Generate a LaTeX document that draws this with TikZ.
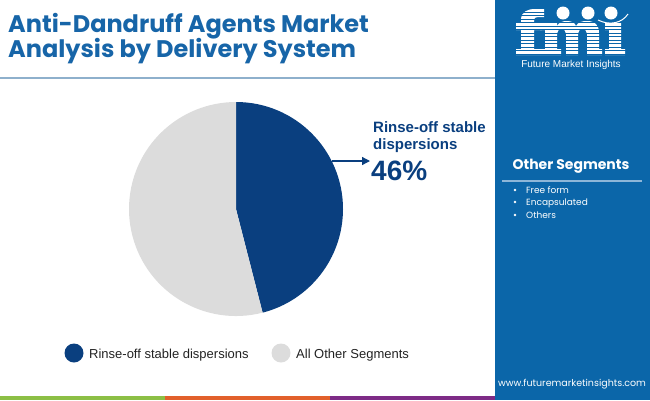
\documentclass[tikz,border=0pt]{standalone}
\usepackage{fontspec}
\setmainfont{Liberation Sans}
\newfontfamily\pop{Poppins}
\usetikzlibrary{arrows.meta}
\definecolor{panelblue}{HTML}{0B66A9}
\definecolor{titleblue}{HTML}{1765A8}
\definecolor{darkslice}{HTML}{0A3F7F}
\definecolor{greyslice}{HTML}{DCDCDC}
\definecolor{sepline}{HTML}{8EB0CC}
\definecolor{panelline}{HTML}{8DB6D8}
\definecolor{barGreen}{HTML}{8CBF45}
\definecolor{barOrange}{HTML}{E2602B}
\definecolor{barPurple}{HTML}{7E2B86}
\definecolor{legendtext}{HTML}{222222}
\tikzset{
  titletext/.style={anchor=base west, inner sep=0pt, text=titleblue, font=\pop\bfseries\fontsize{24}{26}\selectfont},
  calltext/.style={anchor=base west, inner sep=0pt, text=darkslice, font=\bfseries\fontsize{15}{17}\selectfont},
  callnum/.style={anchor=base west, inner sep=0pt, text=darkslice, font=\bfseries\fontsize{28}{30}\selectfont},
  legtext/.style={anchor=base west, inner sep=0pt, text=legendtext, font=\fontsize{13}{15}\selectfont},
  legdot/.style={circle, minimum size=19pt, inner sep=0pt},
  segtitle/.style={anchor=base, inner sep=0pt, text=white, font=\pop\bfseries\fontsize{14}{16}\selectfont},
  segitem/.style={anchor=base west, inner sep=0pt, text=white, font=\pop\fontsize{9}{11}\selectfont},
  bulletdot/.style={circle, fill=white, minimum size=2.6pt, inner sep=0pt},
  webtext/.style={anchor=base, inner sep=0pt, text=white, font=\pop\fontsize{9.5}{11}\selectfont},
  logoletter/.style={fill=white},
}
\begin{document}
\begin{tikzpicture}[x=1pt, y=-1pt]
\useasboundingbox (0,0) rectangle (650,400);
% right panel
\fill[panelblue] (495,0) rectangle (650,400);
% bottom bars
\fill[barGreen] (0,396) rectangle (165,400);
\fill[barOrange] (165,396) rectangle (330,400);
\fill[barPurple] (330,396) rectangle (495,400);
% title separator
\draw[sepline, line width=2pt] (0,78) -- (495,78);
% title
\node[titletext] (t1) at (8,32) {Anti-Dandruff Agents Market};
\node[titletext] (t2) at (8,57) {Analysis by Delivery System};
% logo letters f m i
\fill[logoletter] (516,55) -- (516,49) -- (521,49) -- (521,30) -- (516,30) -- (516,23) -- (521,23) -- (521,20)
  .. controls (521,12) and (527,9) .. (535,9) -- (544,9) -- (544,17) -- (538,17)
  .. controls (535,17) and (534,18) .. (534,21) -- (534,23) -- (542,23) -- (542,30) -- (534,30)
  -- (534,49) -- (540,49) -- (540,55) -- cycle;
\fill[logoletter] (540,55) -- (540,49) -- (545,49) -- (545,30) -- (540,30) -- (540,23) -- (557,23) -- (557,26)
  .. controls (559,22) and (563,21) .. (567,21) .. controls (572,21) and (575,23) .. (576,26)
  .. controls (578,22) and (582,21) .. (587,21) .. controls (595,21) and (599,25) .. (599,33)
  -- (599,49) -- (602,49) -- (602,55) -- (587,55) -- (587,34)
  .. controls (587,31) and (585,29) .. (582.5,29) .. controls (580,29) and (578,31) .. (578,34)
  -- (578,55) -- (566,55) -- (566,34)
  .. controls (566,31) and (564,29) .. (561.5,29) .. controls (559,29) and (557,31) .. (557,34)
  -- (557,49) -- (561,49) -- (561,55) -- cycle;
\fill[logoletter] (605,55) -- (605,49) -- (609,49) -- (609,30) -- (605,30) -- (605,23) -- (621,23) -- (621,49) -- (625,49) -- (625,55) -- cycle;
\foreach \yy in {12,15.5,...,55} {\draw[panelblue, line width=0.9pt] (514,\yy) -- (630,\yy);}
\fill[white] (563,13) circle (6.5);
\fill[white] (588,13) circle (6.5);
\fill[white] (611,13) circle (6.5);
\draw[white, line width=1pt] (598,20) .. controls (610,26) and (622,23) .. (628,14);
\node[anchor=base, inner sep=0pt, text=white, font=\fontsize{10}{12}\selectfont] (logotext) at (571,67) {Future Market Insights};
% pie
\coordinate (c) at (236,209);
\fill[darkslice] (c) -- ++(-90:107) arc[start angle=-90, end angle=75.6, radius=107] -- cycle;
\fill[greyslice] (c) -- ++(75.6:107) arc[start angle=75.6, end angle=270, radius=107] -- cycle;
% callout
\coordinate (pe) at (331.6,161);
\coordinate (tip) at (370,161);
\draw[darkslice, line width=1.3pt, -{Triangle[length=8pt, width=8pt]}] (pe) -- (tip);
\node[calltext] (c1) at (373,132) {Rinse-off stable};
\node[calltext] (c2) at (373,149) {dispersions};
\node[callnum] (c3) at (371,180) {46\%};
% legend
\node[legdot, fill=darkslice] (ld1) at (74,353) {};
\node[legtext] (lt1) at (89,358) {Rinse-off stable dispersions};
\node[legdot, fill=greyslice] (ld2) at (281,353) {};
\node[legtext] (lt2) at (296,358) {All Other Segments};
% other segments panel
\node[segtitle] (seg) at (571,169) {Other Segments};
\draw[panelline, line width=1.5pt] (502,181) -- (642,181);
\node[bulletdot] (b1) at (515,190) {};
\node[segitem] (s1) at (526,193) {Free form};
\node[bulletdot] (b2) at (515,202) {};
\node[segitem] (s2) at (526,205) {Encapsulated};
\node[bulletdot] (b3) at (515,215) {};
\node[segitem] (s3) at (526,218) {Others};
% website
\node[webtext] (web) at (572,386) {www.futuremarketinsights.com};
\end{tikzpicture}
\end{document}
